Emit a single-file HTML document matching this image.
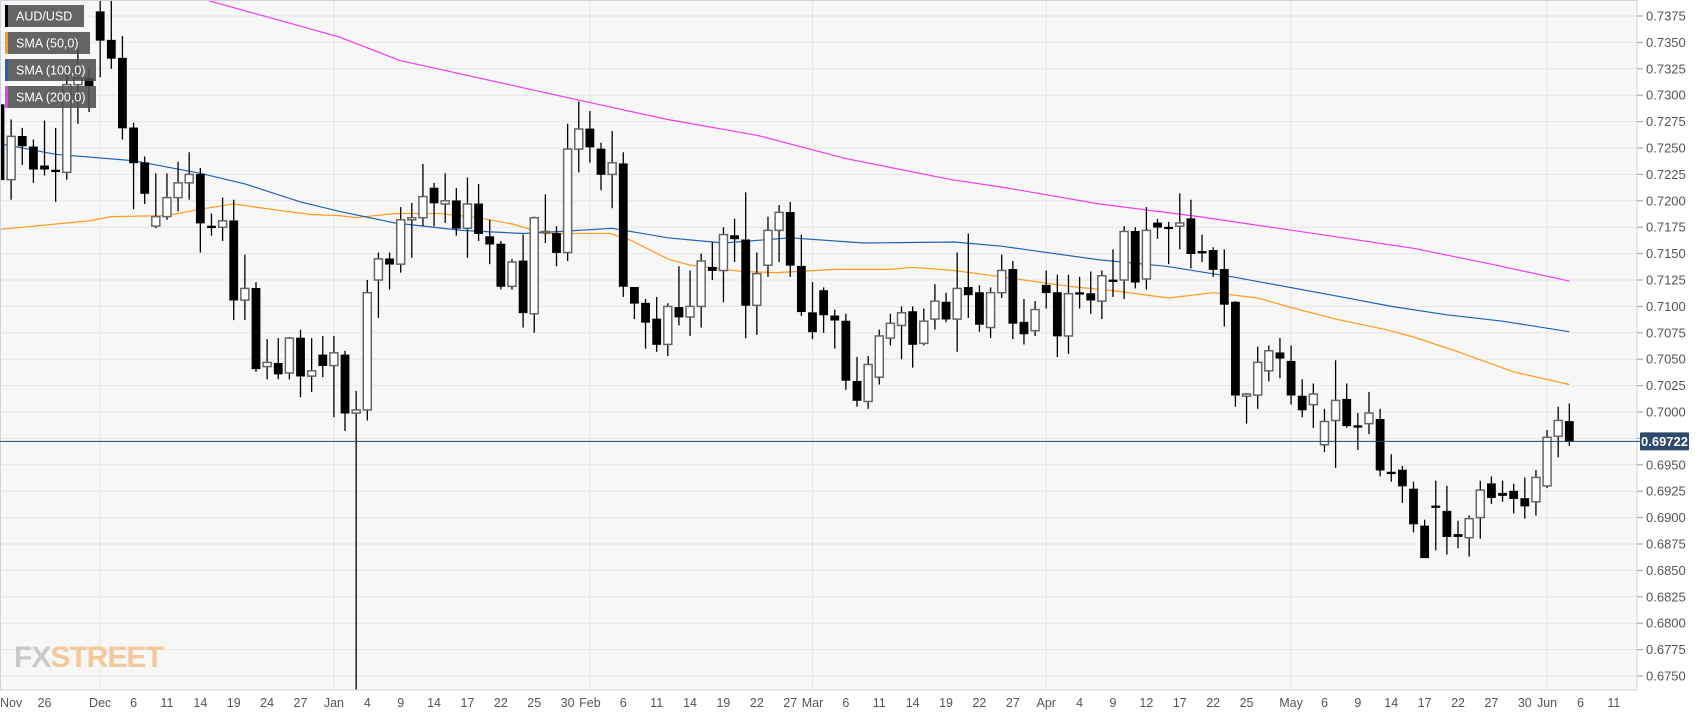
<!DOCTYPE html>
<html><head><meta charset="utf-8"><style>
html,body{margin:0;padding:0;background:#fff;width:1707px;height:712px;overflow:hidden}
svg{display:block;font-family:"Liberation Sans",sans-serif}
</style></head><body>
<svg id="chart" width="1707" height="712" viewBox="0 0 1707 712" xmlns="http://www.w3.org/2000/svg">
<defs><clipPath id="plotclip"><rect x="0" y="0" width="1637" height="690"/></clipPath></defs>
<rect x="0" y="0" width="1637" height="690" fill="#f7f7f7"/>
<g id="grid"></g>
<g id="yaxis"></g>
<g id="xaxis"></g>
<g id="plot" clip-path="url(#plotclip)"></g>
<rect x="0.5" y="0.5" width="1636.5" height="689.5" fill="none" stroke="#ccd3e0" stroke-width="1"/>
<g>
<text x="14" y="667" font-size="30" font-family="'Liberation Sans Narrow','Liberation Sans',sans-serif" font-weight="bold" letter-spacing="-1"><tspan fill="#c9c9c9">FX</tspan><tspan fill="#f2c99a">STREET</tspan></text>
</g>
<g id="legend"></g>
<g id="pricelabel"></g>
</svg>
<script>
const opens=[.7291,.7220,.7261,.7251,.7233,.7229,.7227,.7310,.7316,.7379,.7352,.7335,.7269,.7236,.7176,.7185,.7203,.7217,.7225,.7176,.7175,.7181,.7106,.7117,.7043,.7046,.7037,.7070,.7034,.7054,.7044,.7054,.6999,.7002,.7125,.7145,.7140,.7182,.7184,.7212,.7197,.7200,.7174,.7197,.7166,.7159,.7119,.7143,.7093,.7170,.7169,.7151,.7249,.7268,.7249,.7225,.7235,.7118,.7103,.7088,.7064,.7099,.7090,.7100,.7137,.7134,.7167,.7163,.7101,.7139,.7172,.7189,.7138,.7094,.7115,.7091,.7086,.7029,.7010,.7033,.7070,.7082,.7095,.7065,.7088,.7104,.7088,.7118,.7113,.7080,.7113,.7135,.7085,.7077,.7120,.7113,.7072,.7113,.7112,.7105,.7125,.7125,.7171,.7126,.7179,.7175,.7176,.7183,.7152,.7153,.7135,.7104,.7015,.7016,.7039,.7056,.7048,.7015,.7007,.6969,.6992,.7012,.6987,.6989,.6993,.6943,.6945,.6927,.6892,.6911,.6906,.6884,.6881,.6900,.6932,.6923,.6925,.6918,.6915,.6930,.6977,.6991];
const highs=[.7300,.7277,.7269,.7258,.7276,.7269,.7327,.7344,.7326,.7395,.7390,.7356,.7274,.7242,.7226,.7226,.7237,.7246,.7231,.7188,.7203,.7201,.7149,.7123,.7069,.7070,.7071,.7078,.7070,.7072,.7072,.7058,.7020,.7125,.7151,.7151,.7194,.7198,.7235,.7217,.7226,.7212,.7222,.7216,.7182,.7162,.7145,.7168,.7185,.7206,.7176,.7273,.7294,.7285,.7255,.7266,.7246,.7118,.7107,.7109,.7103,.7138,.7134,.7150,.7161,.7175,.7183,.7208,.7151,.7185,.7196,.7199,.7168,.7123,.7118,.7097,.7093,.7052,.7053,.7078,.7093,.7100,.7100,.7098,.7121,.7113,.7151,.7169,.7120,.7118,.7149,.7143,.7107,.7105,.7134,.7130,.7130,.7128,.7133,.7134,.7154,.7176,.7175,.7194,.7183,.7180,.7207,.7201,.7168,.7156,.7154,.7105,.7018,.7062,.7063,.7070,.7063,.7031,.7027,.7003,.7049,.7027,.6999,.7019,.7003,.6960,.6949,.6934,.6898,.6935,.6930,.6897,.6902,.6935,.6939,.6935,.6932,.6938,.6945,.6983,.7005,.7008];
const lows=[.7212,.7201,.7234,.7217,.7224,.7199,.7220,.7273,.7284,.7317,.7325,.7258,.7192,.7197,.7174,.7182,.7190,.7201,.7151,.7167,.7162,.7087,.7087,.7038,.7031,.7031,.7031,.7014,.7019,.7033,.6995,.6982,.6700,.6992,.7089,.7116,.7132,.7146,.7176,.7176,.7179,.7167,.7146,.7162,.7140,.7116,.7116,.7080,.7075,.7160,.7138,.7143,.7227,.7236,.7210,.7193,.7109,.7088,.7060,.7057,.7053,.7082,.7072,.7080,.7125,.7104,.7142,.7070,.7073,.7128,.7142,.7128,.7091,.7069,.7075,.7060,.7021,.7005,.7003,.7026,.7063,.7050,.7042,.7063,.7078,.7085,.7057,.7089,.7076,.7070,.7108,.7069,.7064,.7072,.7098,.7052,.7055,.7098,.7093,.7088,.7109,.7107,.7117,.7116,.7164,.7140,.7154,.7136,.7142,.7128,.7081,.7005,.6989,.7003,.7029,.7032,.7007,.6995,.6985,.6962,.6947,.6985,.6964,.6979,.6939,.6934,.6914,.6886,.6862,.6869,.6865,.6871,.6863,.6880,.6913,.6915,.6904,.6899,.6902,.6928,.6957,.6968];
const closes=[.7220,.7261,.7252,.7230,.7230,.7229,.7310,.7316,.7309,.7352,.7335,.7269,.7236,.7207,.7185,.7203,.7217,.7225,.7179,.7175,.7181,.7106,.7117,.7041,.7047,.7036,.7070,.7034,.7039,.7044,.7056,.6999,.7002,.7113,.7145,.7140,.7182,.7184,.7204,.7198,.7200,.7174,.7197,.7169,.7159,.7119,.7142,.7094,.7184,.7171,.7151,.7249,.7268,.7251,.7225,.7236,.7119,.7103,.7085,.7064,.7100,.7090,.7100,.7143,.7134,.7168,.7164,.7101,.7131,.7172,.7189,.7139,.7095,.7076,.7092,.7087,.7030,.7011,.7045,.7072,.7084,.7094,.7064,.7086,.7105,.7088,.7117,.7111,.7083,.7113,.7134,.7084,.7074,.7097,.7113,.7072,.7112,.7113,.7106,.7129,.7125,.7171,.7123,.7172,.7175,.7175,.7179,.7150,.7152,.7135,.7102,.7016,.7017,.7047,.7058,.7051,.7016,.7002,.7017,.6991,.7011,.6987,.6987,.6999,.6945,.6943,.6930,.6894,.6862,.6911,.6882,.6882,.6899,.6926,.6919,.6921,.6918,.6911,.6938,.6976,.6992,.6972];
const sma50Idx=[0,8,10,15,18,21,25,28,30.5,32,35.5,39.5,43,46,49,54.8,56.6,60,62,66.8,69.8,75,80,82,85.7,90,96,100,105,109,113,116,120,124.5,127,131,136,141];
const sma50Val=[.7173,.7181,.7185,.7186,.7192,.7197,.7191,.7187,.7186,.7184,.7188,.7188,.7184,.7178,.7169,.7169,.7163,.7145,.7139,.7133,.7132,.7135,.7135,.7137,.7134,.7128,.7119,.7115,.7108,.7113,.7108,.7099,.7088,.7078,.7071,.7057,.7038,.7026];
const sma100Idx=[0,5,12,18,22,27,30.5,35.5,41.5,47,50.5,55,60,65,71,77.6,85.7,90,98.8,104.8,110.7,120,125,130,135,141];
const sma100Val=[.7254,.7244,.7238,.7226,.7216,.7199,.7190,.7179,.7172,.7169,.7171,.7174,.7165,.7160,.7165,.7160,.7161,.7157,.7144,.7138,.7128,.7110,.7100,.7092,.7086,.7076];
const sma200Idx=[17,18.6,30.5,35.9,46.6,53,60,68,76,85.5,90,98.8,107.7,120,127,134,141];
const sma200Val=[.7400,.7390,.7355,.7333,.7308,.7293,.7277,.7262,.7240,.7220,.7213,.7197,.7185,.7166,.7155,.7140,.7124];
const yTicks=[.7375,.7350,.7325,.7300,.7275,.7250,.7225,.7200,.7175,.7150,.7125,.7100,.7075,.7050,.7025,.7000,.6975,.6950,.6925,.6900,.6875,.6850,.6825,.6800,.6775,.6750];
const xLabelText=["26","Dec","6","11","14","19","24","27","Jan","4","9","14","17","22","25","30","Feb","6","11","14","19","22","27","Mar","6","11","14","19","22","27","Apr","4","9","12","17","22","25","May","6","9","14","17","22","27","30","Jun","6","11"];
const xLabelIdx=[4,9,12,15,18,21,24,27,30,33,36,39,42,45,48,51,53,56,59,62,65,68,71,73,76,79,82,85,88,91,94,97,100,103,106,109,112,116,119,122,125,128,131,134,137,139,142,145];
const monthIdx=[9,30,53,73,94,116,139];
const lastPrice=0.69722;

const NS="http://www.w3.org/2000/svg";
function X(i){return 11.13*i;}
function Y(p){return 16+(0.7375-p)*10560;}
function mk(tag,attrs,parent){const e=document.createElementNS(NS,tag);for(const k in attrs)e.setAttribute(k,attrs[k]);parent.appendChild(e);return e;}
const grid=document.getElementById('grid'),plot=document.getElementById('plot'),yax=document.getElementById('yaxis'),xax=document.getElementById('xaxis');
yTicks.forEach(t=>{
  const y=Y(t);
  const gl=mk('line',{x1:0,x2:1637,y1:y,y2:y,stroke:'#e6e6e6','stroke-width':1},grid);
  
  
  const tk=mk('line',{x1:1637,x2:1643,y1:y,y2:y,stroke:'#999','stroke-width':1},yax);
  
  
  const tx=mk('text',{x:1646,y:y+4.5,'font-size':13,fill:'#555'},yax);
  tx.textContent=t.toFixed(4);
  
  
});
monthIdx.forEach(i=>{
  const gl=mk('line',{x1:X(i),x2:X(i),y1:0,y2:690,stroke:'#e6e6e6','stroke-width':1},grid);
  
  
});
const nov=mk('text',{x:0,y:707,'font-size':12.5,fill:'#555'},xax);
nov.textContent="Nov";


xLabelText.forEach((s,k)=>{
  const t=mk('text',{x:X(xLabelIdx[k]),y:707,'font-size':12.5,fill:'#555','text-anchor':'middle'},xax);
  t.textContent=s;
  
  
});
function smaLine(idx,val,color,name){
  const pts=idx.map((i,k)=>X(i).toFixed(1)+','+Y(val[k]).toFixed(1)).join(' ');
  const pl=mk('polyline',{points:pts,fill:'none',stroke:color,'stroke-width':1.2},plot);
  
  
}
smaLine(sma50Idx,sma50Val,'#ff9a1a','sma-50-line');
smaLine(sma100Idx,sma100Val,'#1e62b8','sma-100-line');
smaLine(sma200Idx,sma200Val,'#f03cf0','sma-200-line');
for(let i=0;i<opens.length;i++){
  const o=opens[i],h=highs[i],l=lows[i],c=closes[i],x=X(i);
  const g=mk('g',{},plot);
  
  
  const w=mk('line',{x1:x,x2:x,y1:Y(h),y2:Y(l),stroke:'#000','stroke-width':1.3},g);
  
  
  const top=Y(Math.max(o,c)),bot=Y(Math.min(o,c));
  const hgt=Math.max(bot-top,1.5);
  const up=c>o;
  const b=mk('rect',{x:x-4,y:top,width:8,height:hgt,fill:up?'#fff':'#000',stroke:up?'#666':'#000','stroke-width':up?1.5:0.8},g);
  
  
}
const pl=mk('line',{x1:0,x2:1640,y1:Y(lastPrice),y2:Y(lastPrice),stroke:'#2a4466','stroke-width':1},document.getElementById('pricelabel'));


const pb=mk('rect',{x:1640,y:Y(lastPrice)-9,width:49,height:18,fill:'#2e4a6b',rx:1},document.getElementById('pricelabel'));


const pt=mk('text',{x:1664.5,y:Y(lastPrice)+4.5,'font-size':13,'font-weight':'bold',fill:'#fff','text-anchor':'middle'},document.getElementById('pricelabel'));
pt.textContent=lastPrice.toFixed(5);


const leg=document.getElementById('legend');
const legendNames=["AUD/USD","SMA (50,0)","SMA (100,0)","SMA (200,0)"];
const legendColors=["#000","#ff9a1a","#1e62b8","#f03cf0"];
const legendW=[79,85,91,91];
legendNames.forEach((s,k)=>{
  const y=5+k*27;
  const g=mk('g',{},leg);
  
  
  mk('rect',{x:5,y:y,width:legendW[k],height:22,fill:'rgba(80,80,80,0.88)'},g);
  mk('rect',{x:5,y:y,width:3,height:22,fill:legendColors[k]},g);
  const t=mk('text',{x:16,y:y+15.5,'font-size':12.5,fill:'#fff'},g);
  t.textContent=s;
});
</script>
</body></html>
